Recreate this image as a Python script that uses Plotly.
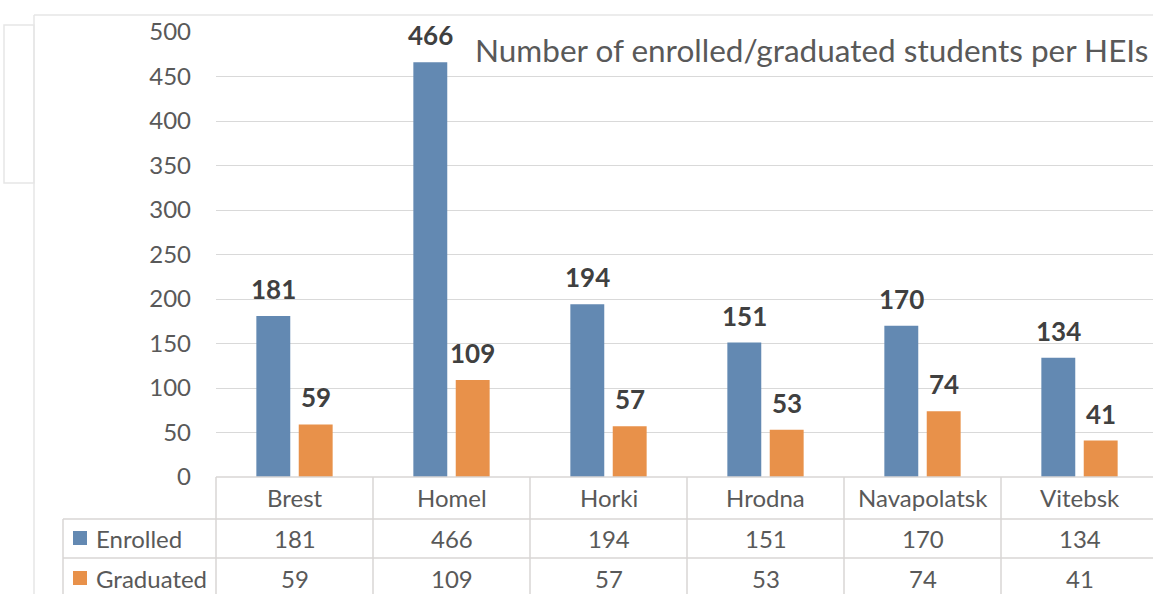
import plotly.graph_objects as go

categories = ["Brest", "Homel", "Horki", "Hrodna", "Navapolatsk", "Vitebsk"]
enrolled = [181, 466, 194, 151, 170, 134]
graduated = [59, 109, 57, 53, 74, 41]
series_names = ["Enrolled", "Graduated"]
y_ticks = [0, 50, 100, 150, 200, 250, 300, 350, 400, 450, 500]
title_text = "Number of enrolled/graduated students per HEIs"

BLUE = "#6389b2"
ORANGE = "#e8914a"
GRID = "#d9d9d9"
TEXT = "#595959"
LABEL = "#404040"
FONT = "Lato"

W, H = 1153, 594
L, R, T, B = 216, 0, 32, 117
PW = W - L - R
PH = H - T - B
CAT_W = 157.0
xmin = -0.5
xmax = xmin + PW / CAT_W
BARGAP = 0.46
GROUPGAP = 0.2


def px_x(X):
    return (X - L) / PW


def px_y(Y):
    return (H - B - Y) / PH


def data_x_paper(v):
    return (v - xmin) / (xmax - xmin)


fig = go.Figure()
series = [enrolled, graduated]
colors = [BLUE, ORANGE]
for name, vals, col in zip(series_names, series, colors):
    fig.add_trace(go.Bar(
        x=list(range(len(categories))), y=vals, name=name,
        marker=dict(color=col, line=dict(width=0)),
        showlegend=False, hoverinfo="skip",
    ))

annotations = []
shapes = []

# data labels above bars
slot = (1 - BARGAP) / 2
offsets = [-slot / 2, slot / 2]
for k, vals in enumerate(series):
    for i, v in enumerate(vals):
        annotations.append(dict(
            x=i + offsets[k], y=v, xref="x", yref="y", text=str(v),
            showarrow=False, yanchor="bottom", yshift=9,
            font=dict(family=FONT, size=26, color=LABEL, weight="bold"),
        ))

# title
annotations.append(dict(
    x=px_x(1150), y=px_y(50), xref="paper", yref="paper", text=title_text,
    showarrow=False, xanchor="right", yanchor="middle",
    font=dict(family=FONT, size=31.5, color=TEXT),
))

# data table
row_y = [px_y(497), px_y(538), px_y(578)]
for i, c in enumerate(categories):
    annotations.append(dict(x=i, y=row_y[0], xref="x", yref="paper", text=c,
                            showarrow=False, xanchor="center", yanchor="middle",
                            font=dict(family=FONT, size=24, color=TEXT)))
    for k, vals in enumerate(series):
        annotations.append(dict(x=i, y=row_y[k + 1], xref="x", yref="paper", text=str(vals[i]),
                                showarrow=False, xanchor="center", yanchor="middle",
                                font=dict(family=FONT, size=24, color=TEXT)))

for k, (name, col) in enumerate(zip(series_names, colors)):
    yc = [538, 578][k]
    shapes.append(dict(type="rect", xref="paper", yref="paper",
                       x0=px_x(73), x1=px_x(87), y0=px_y(yc - 7), y1=px_y(yc + 7),
                       fillcolor=col, line=dict(width=0)))
    annotations.append(dict(x=px_x(94), y=px_y(yc), xref="paper", yref="paper", text=name,
                            showarrow=False, xanchor="left", yanchor="middle",
                            font=dict(family=FONT, size=24, color=TEXT)))

LINE = dict(color="#d9d6d4", width=1.5)
# horizontal table lines
shapes.append(dict(type="line", xref="paper", yref="paper", x0=0, x1=1, y0=0, y1=0, line=LINE))
for Y in (519, 558):
    shapes.append(dict(type="line", xref="paper", yref="paper", x0=px_x(63), x1=1,
                       y0=px_y(Y), y1=px_y(Y), line=LINE))
# vertical table lines at category boundaries
for i in range(len(categories) + 1):
    xp = data_x_paper(i - 0.5)
    if xp <= 1:
        shapes.append(dict(type="line", xref="paper", yref="paper", x0=xp, x1=xp,
                           y0=0, y1=px_y(600), line=LINE))
shapes.append(dict(type="line", xref="paper", yref="paper", x0=px_x(63), x1=px_x(63),
                   y0=px_y(519), y1=px_y(600), line=LINE))

# chart frame artifacts
FRAME = dict(color="#e6e6e6", width=1.5)
shapes.append(dict(type="line", xref="paper", yref="paper", x0=px_x(34), x1=px_x(34),
                   y0=px_y(15), y1=px_y(600), line=FRAME))
shapes.append(dict(type="line", xref="paper", yref="paper", x0=px_x(34), x1=px_x(1160),
                   y0=px_y(15), y1=px_y(15), line=FRAME))
shapes.append(dict(type="rect", xref="paper", yref="paper", x0=px_x(4), x1=px_x(34),
                   y0=px_y(183), y1=px_y(25), line=FRAME))

fig.update_layout(
    width=W, height=H,
    margin=dict(l=L, r=R, t=T, b=B, pad=0),
    paper_bgcolor="white", plot_bgcolor="white",
    barmode="group", bargap=BARGAP, bargroupgap=GROUPGAP,
    xaxis=dict(range=[xmin, xmax], showticklabels=False, showgrid=False,
               zeroline=False, showline=False, fixedrange=True),
    yaxis=dict(range=[0, 500], tickvals=y_ticks, showgrid=True, gridcolor=GRID,
               gridwidth=1.2, zeroline=False, showline=False, ticks="",
               ticklabelstandoff=24,
               tickfont=dict(family=FONT, size=24, color=TEXT)),
    annotations=annotations, shapes=shapes,
)

fig.write_html("out.html", config={"displayModeBar": False},
               post_script="document.body.style.margin='0';document.body.style.overflow='hidden';")
